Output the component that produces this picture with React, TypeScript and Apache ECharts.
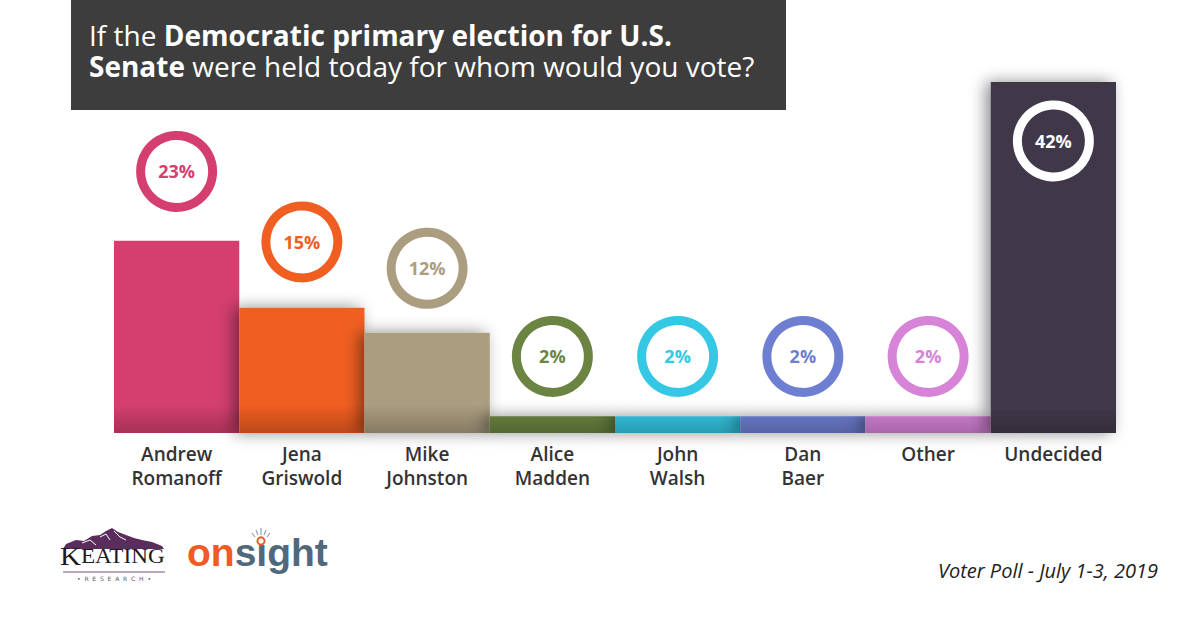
import React, { useEffect, useRef } from "react";
import * as echarts from "echarts";

// Poll results
const categories = [
  "Andrew\nRomanoff",
  "Jena\nGriswold",
  "Mike\nJohnston",
  "Alice\nMadden",
  "John\nWalsh",
  "Dan\nBaer",
  "Other",
  "Undecided",
];
const shares = [23, 15, 12, 2, 2, 2, 2, 42];
const palette = [
  "#d43f6f",
  "#f05e22",
  "#ab9d80",
  "#6b8442",
  "#35c8e4",
  "#6e7fd2",
  "#d683d8",
  "#41394a",
];

const titleLine1 = "{r|If the }{b|Democratic primary election for U.S.}";
const titleLine2 = "{b|Senate}{r| were held today for whom would you vote?}";
const footnote = "Voter Poll - July 1-3, 2019";

const GRID = { left: 114, right: 84, top: 82, bottom: 196 };
const CHART_H = 629;
const BASE_Y = CHART_H - GRID.bottom;

function shade(hex: string, f: number): string {
  const n = parseInt(hex.slice(1), 16);
  const r = Math.round(((n >> 16) & 255) * f);
  const g = Math.round(((n >> 8) & 255) * f);
  const b = Math.round((n & 255) * f);
  return `rgb(${r},${g},${b})`;
}

const titleRich = {
  r: { font: '28px "Open Sans"', fill: "#ffffff", lineHeight: 29 },
  b: { font: 'bold 28px "Open Sans"', fill: "#ffffff", lineHeight: 29 },
};

export default function App() {
  const ref = useRef<HTMLDivElement>(null);

  useEffect(() => {
    if (!ref.current) return;
    const chart = echarts.init(ref.current, undefined, { renderer: "svg" });
    const maxShare = Math.max(...shares);

    const barData = shares.map((v, i) => ({
      value: v,
      itemStyle: {
        color: new echarts.graphic.LinearGradient(
          0,
          BASE_Y - 28,
          0,
          BASE_Y,
          [
            { offset: 0, color: palette[i] },
            { offset: 1, color: shade(palette[i], 0.78) },
          ],
          true
        ),
        shadowBlur: i === 0 ? 0 : 16,
        shadowColor: i === 0 ? "rgba(0,0,0,0)" : "rgba(0,0,0,0.45)",
        shadowOffsetX: i === 0 ? 0 : -5,
        shadowOffsetY: 0,
      },
    }));

    chart.setOption({
      animation: false,
      backgroundColor: "#ffffff",
      grid: { ...GRID, containLabel: false },
      xAxis: {
        type: "category",
        data: categories,
        axisLine: { show: false },
        axisTick: { show: false },
        axisLabel: {
          margin: 9,
          color: "#333333",
          fontFamily: "Open Sans",
          fontWeight: 600,
          fontSize: 19,
          lineHeight: 24,
          interval: 0,
        },
      },
      yAxis: {
        type: "value",
        min: 0,
        max: maxShare,
        show: false,
        splitLine: { show: false },
      },
      series: [
        {
          type: "bar",
          data: barData,
          barCategoryGap: 0,
          barGap: 0,
          z: 2,
        },
        {
          type: "custom",
          z: 5,
          data: shares.map((v, i) => [i, v]),
          renderItem: (params: any, api: any) => {
            const i = api.value(0);
            const v = api.value(1);
            const pt = api.coord([i, v]);
            const inside = v === maxShare;
            // taller bars carry their badge a little higher
            const cy = inside ? pt[1] + 59 : pt[1] - (59 + 0.45 * v);
            const color = palette[i];
            return {
              type: "group",
              children: [
                {
                  type: "circle",
                  shape: { cx: pt[0], cy, r: 36 },
                  style: {
                    fill: inside ? "none" : "#ffffff",
                    stroke: inside ? "#ffffff" : color,
                    lineWidth: 9,
                  },
                },
                {
                  type: "text",
                  style: {
                    text: `${v}%`,
                    x: pt[0],
                    y: cy,
                    align: "center",
                    verticalAlign: "middle",
                    fill: inside ? "#ffffff" : color,
                    font: 'bold 18px "Open Sans"',
                  },
                },
              ],
            };
          },
        },
      ],
      graphic: [
        // question banner
        {
          type: "rect",
          shape: { x: 71, y: 0, width: 715, height: 110 },
          style: { fill: "#3d3d3d" },
          z: 10,
        },
        {
          type: "text",
          x: 89,
          y: 35,
          z: 11,
          style: { text: titleLine1, verticalAlign: "middle", rich: titleRich },
        },
        {
          type: "text",
          x: 89,
          y: 66,
          z: 11,
          style: { text: titleLine2, verticalAlign: "middle", rich: titleRich },
        },
        // footnote
        {
          type: "text",
          x: 1158,
          y: 570,
          style: {
            text: footnote,
            align: "right",
            verticalAlign: "middle",
            font: 'italic 20px "Open Sans"',
            fill: "#222222",
          },
        },
        // Keating Research mark
        {
          type: "group",
          children: [
            {
              type: "polygon",
              shape: {
                points: [
                  [63, 549],
                  [66, 544],
                  [76, 540],
                  [84, 541],
                  [92, 536],
                  [100, 535],
                  [106, 531],
                  [112, 528],
                  [118, 532],
                  [126, 535],
                  [134, 538],
                  [142, 540],
                  [152, 542],
                  [162, 546],
                  [164, 549],
                ],
              },
              style: { fill: "#5a2d5c" },
            },
            {
              type: "polyline",
              shape: { points: [[100, 537], [106, 534], [110, 540]] },
              style: { stroke: "#ffffff", lineWidth: 1, fill: "none" },
            },
            {
              type: "polyline",
              shape: { points: [[114, 531], [120, 537], [126, 540]] },
              style: { stroke: "#ffffff", lineWidth: 1, fill: "none" },
            },
            {
              type: "polyline",
              shape: { points: [[82, 543], [90, 540], [96, 545]] },
              style: { stroke: "#ffffff", lineWidth: 1, fill: "none" },
            },
            {
              type: "text",
              x: 60,
              y: 569,
              scaleX: 1.16,
              style: {
                text: "{k|K}{e|EATING}",
                verticalAlign: "bottom",
                rich: {
                  k: { font: '25px "Liberation Serif"', fill: "#1e1a1e" },
                  e: { font: '20px "Liberation Serif"', fill: "#1e1a1e" },
                },
              },
            },
            {
              type: "line",
              shape: { x1: 63, y1: 572, x2: 165, y2: 572 },
              style: { stroke: "#7a4a7c", lineWidth: 1 },
            },
            {
              type: "text",
              x: 114,
              y: 578,
              style: {
                text: "•  R  E  S  E  A  R  C  H  •",
                align: "center",
                verticalAlign: "middle",
                font: '6px "DejaVu Sans"',
                fill: "#555555",
              },
            },
          ],
        },
        // onsight mark
        {
          type: "group",
          children: [
            {
              type: "text",
              x: 187,
              y: 572,
              style: {
                text: "{o|on}{s|sıght}",
                verticalAlign: "bottom",
                rich: {
                  o: { font: 'bold 39px "Liberation Sans"', fill: "#f15a24" },
                  s: { font: 'bold 39px "Liberation Sans"', fill: "#51687a" },
                },
              },
            },
            {
              type: "circle",
              shape: { cx: 261, cy: 541, r: 3.6 },
              style: { fill: "none", stroke: "#f15a24", lineWidth: 2 },
            },
            {
              type: "line",
              shape: { x1: 261, y1: 528, x2: 261, y2: 535 },
              style: { stroke: "#8fa3b3", lineWidth: 1.2 },
            },
            {
              type: "line",
              shape: { x1: 256, y1: 530, x2: 258, y2: 535 },
              style: { stroke: "#8fa3b3", lineWidth: 1.2 },
            },
            {
              type: "line",
              shape: { x1: 266, y1: 530, x2: 264, y2: 535 },
              style: { stroke: "#8fa3b3", lineWidth: 1.2 },
            },
            {
              type: "line",
              shape: { x1: 252, y1: 533, x2: 255, y2: 537 },
              style: { stroke: "#8fa3b3", lineWidth: 1.2 },
            },
            {
              type: "line",
              shape: { x1: 270, y1: 533, x2: 267, y2: 537 },
              style: { stroke: "#8fa3b3", lineWidth: 1.2 },
            },
          ],
        },
      ],
    });

    return () => chart.dispose();
  }, []);

  return (
    <div
      ref={ref}
      style={{ position: "fixed", left: 0, top: 0, width: 1200, height: CHART_H }}
    />
  );
}
